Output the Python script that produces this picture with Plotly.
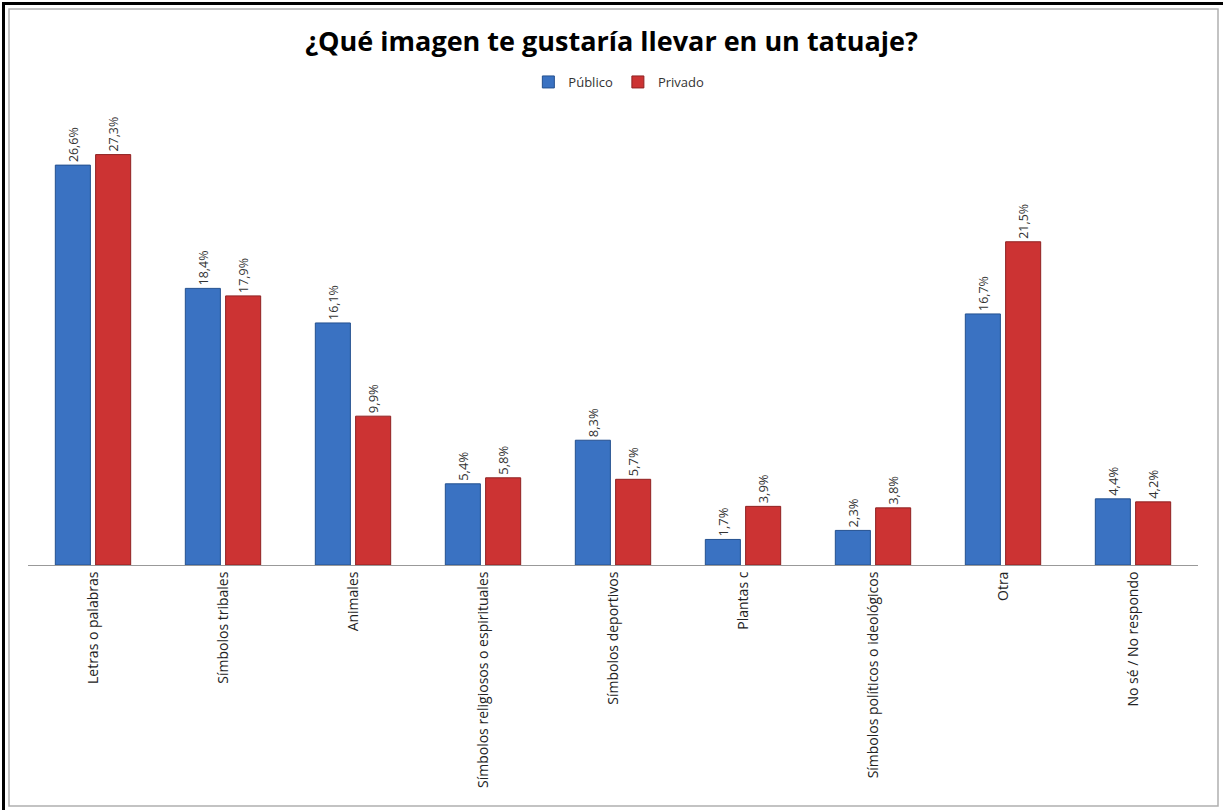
import plotly.graph_objects as go

categories = ['Letras o palabras', 'Símbolos tribales', 'Animales',
              'Símbolos religiosos o espirituales', 'Símbolos deportivos',
              'Plantas c', 'Símbolos políticos o ideológicos', 'Otra',
              'No sé / No respondo']
publico = [26.6, 18.4, 16.1, 5.4, 8.3, 1.7, 2.3, 16.7, 4.4]
privado = [27.3, 17.9, 9.9, 5.8, 5.7, 3.9, 3.8, 21.5, 4.2]

W, H = 1223, 810
ML, MR, MT, MB = 28, 25, 114, 245
PW, PH = W - ML - MR, H - MT - MB


def px(x):
    return (x - ML) / PW


def py(y):
    return (H - MB - y) / PH


def label(v):
    return ['{:.1f}%'.format(x).replace('.', ',') for x in v]


font = 'Open Sans, Noto Sans, sans-serif'

fig = go.Figure()
fig.add_trace(go.Bar(
    x=categories, y=publico, name='Público',
    marker=dict(color='#3a72c2', line=dict(color='#24508f', width=1)),
    text=label(publico), textposition='outside', textangle=-90,
    textfont=dict(size=13, color='#333333'), cliponaxis=False,
))
fig.add_trace(go.Bar(
    x=categories, y=privado, name='Privado',
    marker=dict(color='#cc3333', line=dict(color='#8f2222', width=1)),
    text=label(privado), textposition='outside', textangle=-90,
    textfont=dict(size=13, color='#333333'), cliponaxis=False,
))

shapes = [
    # inner gray frame
    dict(type='rect', xref='paper', yref='paper',
         x0=px(9), x1=px(1218), y0=py(806), y1=py(9),
         line=dict(color='#b0b0b0', width=1.5)),
    # scanned black edge, left and top
    dict(type='line', xref='paper', yref='paper',
         x0=px(3.5), x1=px(3.5), y0=py(810), y1=py(2),
         line=dict(color='black', width=3)),
    dict(type='line', xref='paper', yref='paper',
         x0=px(2), x1=px(1223), y0=py(3.5), y1=py(3.5),
         line=dict(color='black', width=3)),
]

fig.update_layout(
    width=W, height=H,
    margin=dict(l=ML, r=MR, t=MT, b=MB, autoexpand=False),
    paper_bgcolor='white', plot_bgcolor='white',
    font=dict(family=font, color='#222222'),
    title=dict(text='<b>¿Qué imagen te gustaría llevar en un tatuaje?</b>',
               x=0.5, xanchor='center', y=1 - 42 / H, yanchor='middle',
               font=dict(size=27, color='black', family='Open Sans, sans-serif')),
    legend=dict(orientation='h', x=0.505, xanchor='center', y=py(82), yanchor='middle',
                font=dict(size=13, color='#333333'), itemwidth=30,
                bgcolor='rgba(0,0,0,0)'),
    barmode='group', bargap=0.38, bargroupgap=0.13,
    showlegend=True,
    shapes=shapes,
)
fig.update_xaxes(showline=True, linecolor='#999999', linewidth=1, ticks='',
                 tickangle=-90, tickfont=dict(size=14, color='#222222'),
                 showgrid=False)
fig.update_yaxes(range=[0, 30], visible=False, showgrid=False)

fig.write_html('out.html', config={'displayModeBar': False},
               post_script="document.body.style.margin='0';")
